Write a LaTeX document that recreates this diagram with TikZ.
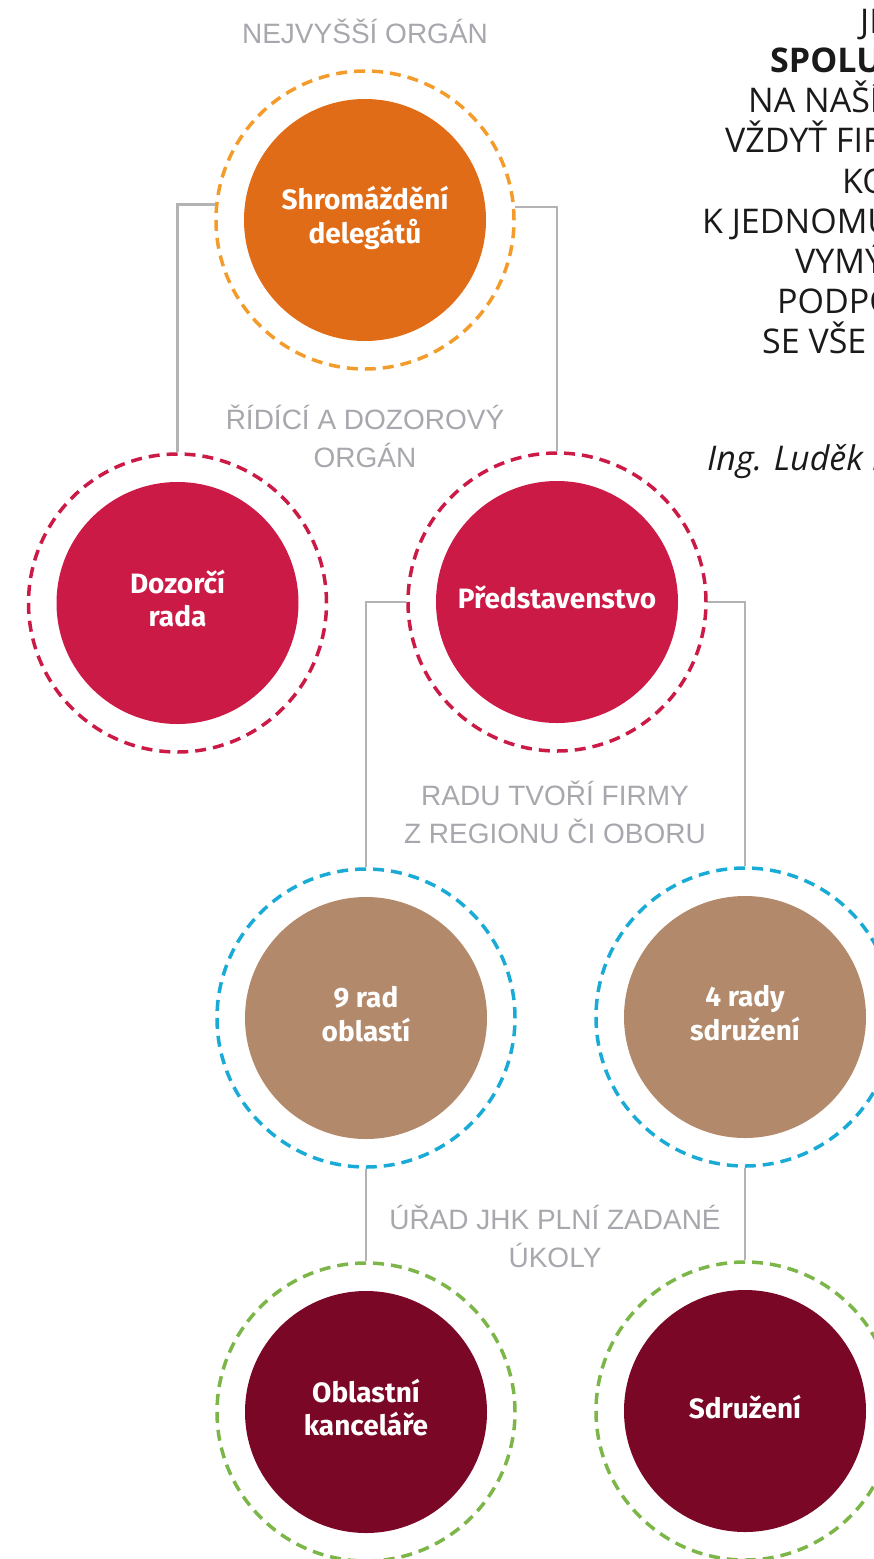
\documentclass[tikz,border=0pt]{standalone}
\usepackage{fontspec}
\setmainfont{Fira Sans}
\newfontfamily\graylab{Liberation Sans}
\newfontfamily\circlab{Fira Sans}
\newfontfamily\quotefont{Open Sans}
\definecolor{orfill}{HTML}{E06C17}
\definecolor{orring}{HTML}{F39C2C}
\definecolor{crim}{HTML}{CC1A46}
\definecolor{tanf}{HTML}{B28A6B}
\definecolor{cyanr}{HTML}{19ABD6}
\definecolor{maroon}{HTML}{7B0727}
\definecolor{greenr}{HTML}{7CB648}
\definecolor{lgray}{HTML}{B3B3B6}
\definecolor{tgray}{HTML}{A7A8AD}
\definecolor{qblack}{HTML}{1A1A1A}
\tikzset{
  disc/.style={circle, fill=#1, minimum size=242pt, inner sep=0pt, text=white,
    font=\circlab\bfseries\fontsize{28}{33}\selectfont, align=center},
  ring/.style={circle, draw=#1, dash pattern=on 11pt off 7pt, line width=3.5pt,
    minimum size=298pt, inner sep=0pt},
  conn/.style={draw=lgray, line width=2.5pt},
  glabel/.style={text=tgray, font=\graylab\fontsize{28}{38}\selectfont, align=center, inner sep=0pt},
  qline/.style={anchor=base west, inner sep=0pt, text=qblack, font=\quotefont\fontsize{34}{40}\selectfont}
}
\begin{document}
\begin{tikzpicture}[x=1pt,y=-1pt]
\useasboundingbox (0,0) rectangle (874,1559);
\begin{scope}
\clip (0,0) rectangle (874,1559);
% rings
\node[ring=orring] (Ar) at (365,220) {};
\node[ring=crim] (Br) at (177.5,603) {};
\node[ring=crim] (Cr) at (557,602) {};
\node[ring=cyanr] (Dr) at (366,1018) {};
\node[ring=cyanr] (Er) at (745,1017) {};
\node[ring=greenr] (Fr) at (366,1412) {};
\node[ring=greenr] (Gr) at (745,1411) {};
% discs
\node[disc=orfill] (A) at (365,220) {\raisebox{10pt}{\begin{tabular}{@{}c@{}}Shromáždění\\delegátů\end{tabular}}};
\node[disc=crim] (B) at (177.5,603) {\raisebox{7pt}{\begin{tabular}{@{}c@{}}Dozorčí\\rada\end{tabular}}};
\node[disc=crim] (C) at (557,602) {\raisebox{9pt}{Představenstvo}};
\node[disc=tanf] (D) at (366,1018) {\raisebox{8pt}{\begin{tabular}{@{}c@{}}9 rad\\oblastí\end{tabular}}};
\node[disc=tanf] (E) at (745,1017) {\raisebox{5pt}{\begin{tabular}{@{}c@{}}4 rady\\sdružení\end{tabular}}};
\node[disc=maroon] (F) at (366,1412) {\raisebox{10pt}{\begin{tabular}{@{}c@{}}Oblastní\\kanceláře\end{tabular}}};
\node[disc=maroon] (G) at (745,1411) {\raisebox{9pt}{Sdružení}};
% connectors
\draw[conn] (Ar.174.6) -| (Br.north);
\draw[conn] (Ar.5.4) -| (Cr.north);
\draw[conn] (Cr.west) -| (Dr.north);
\draw[conn] (Cr.east) -| (Er.north);
\draw[conn] (Dr.south) -- (Fr.north);
\draw[conn] (Er.south) -- (Gr.north);
% gray labels (base anchor = last line)
\node[glabel, anchor=base] (L1) at (365,43) {NEJVYŠŠÍ ORGÁN};
\node[glabel, anchor=base] (L2) at (365,467) {ŘÍDÍCÍ A DOZOROVÝ\\ORGÁN};
\node[glabel, anchor=base] (L3) at (555,843) {RADU TVOŘÍ FIRMY\\Z REGIONU ČI OBORU};
\node[glabel, anchor=base] (L4) at (555,1267) {ÚŘAD JHK PLNÍ ZADANÉ\\ÚKOLY};
% quote (clipped at the right edge)
\node[qline] (q1) at (860,33) {JE};
\node[qline, font=\quotefont\bfseries\fontsize{34}{40}\selectfont] (q2) at (770,72) {SPOLU};
\node[qline] (q3) at (748,112) {NA NAŠÍ};
\node[qline] (q4) at (725,152) {VŽDYŤ FIR};
\node[qline] (q5) at (842,193) {KO};
\node[qline] (q6) at (702,233) {K JEDNOMU};
\node[qline] (q7) at (795,273) {VYMÝ};
\node[qline] (q8) at (777,313) {PODPO};
\node[qline] (q9) at (762,353) {SE VŠE};
\node[qline, font=\quotefont\itshape\fontsize{34}{40}\selectfont] (q10) at (707,470) {Ing. Luděk K};
\end{scope}
\end{tikzpicture}
\end{document}
